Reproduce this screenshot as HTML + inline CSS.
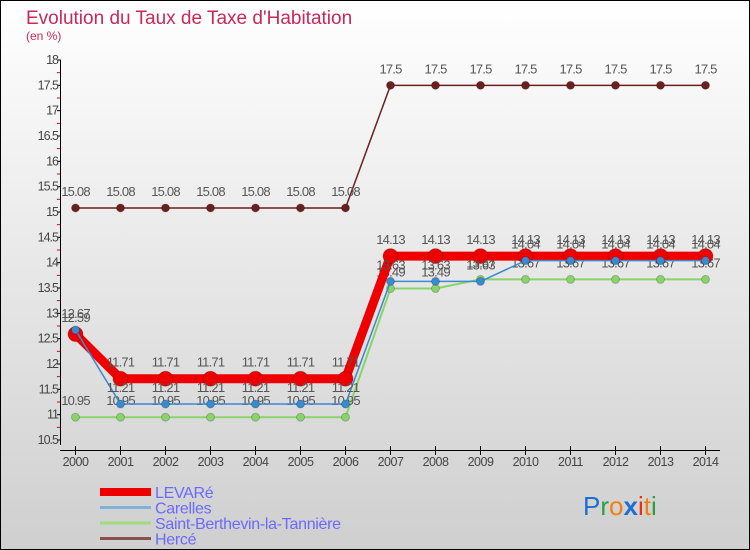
<!DOCTYPE html>
<html><head><meta charset="utf-8"><style>
body{margin:0;padding:0}
#wrap{width:750px;height:550px;position:relative;overflow:hidden}
</style></head><body>
<div id="wrap">
<svg id="svg" width="750" height="550" xmlns="http://www.w3.org/2000/svg" font-family="'Liberation Sans', sans-serif">
<defs>
<linearGradient id="bg" x1="0" y1="0" x2="0" y2="1"><stop offset="0" stop-color="#ffffff"/><stop offset="1" stop-color="#cfcfcf"/></linearGradient>
</defs>
<rect x="0.5" y="0.5" width="749" height="549" fill="url(#bg)" stroke="#000"/>
<text x="26" y="24" font-size="19" fill="#c8285a">Evolution du Taux de Taxe d'Habitation</text>
<text x="26" y="40" font-size="12" fill="#c8285a">(en %)</text>
<g id="axes"></g>
<g id="series"></g>
<g id="legend"></g>
<g font-size="26" font-family="'Liberation Sans', sans-serif">
<text x="583" y="515"><tspan fill="#1a6fd0">P</tspan><tspan fill="#2aa040">r</tspan><tspan fill="#f08010">o</tspan><tspan fill="#1a6fd0" font-weight="bold">x</tspan><tspan fill="#e83010">i</tspan><tspan fill="#f08010">t</tspan><tspan fill="#2aa040">i</tspan></text>
</g>
</svg>
</div>
<script>
const years=[2000,2001,2002,2003,2004,2005,2006,2007,2008,2009,2010,2011,2012,2013,2014];
const yTicks=[10.5,11,11.5,12,12.5,13,13.5,14,14.5,15,15.5,16,16.5,17,17.5,18];
const herce=[15.08,15.08,15.08,15.08,15.08,15.08,15.08,17.5,17.5,17.5,17.5,17.5,17.5,17.5,17.5];
const green=[10.95,10.95,10.95,10.95,10.95,10.95,10.95,13.49,13.49,13.67,13.67,13.67,13.67,13.67,13.67];
const carelles=[12.67,11.21,11.21,11.21,11.21,11.21,11.21,13.63,13.63,13.63,14.04,14.04,14.04,14.04,14.04];
const levare=[12.59,11.71,11.71,11.71,11.71,11.71,11.71,14.13,14.13,14.13,14.13,14.13,14.13,14.13,14.13];
const seriesNames=["LEVARé","Carelles","Saint-Berthevin-la-Tannière","Hercé"];

const NS="http://www.w3.org/2000/svg";
const X=i=>75.5+i*45;
const Y=v=>440-(v-10.5)/7.5*380;
function mk(tag,attrs,parent){const e=document.createElementNS(NS,tag);for(const k in attrs)e.setAttribute(k,attrs[k]);parent.appendChild(e);return e;}
const axes=document.getElementById('axes');
let e=mk('line',{x1:60.5,y1:60,x2:60.5,y2:445,stroke:'#000'},axes);


e=mk('line',{x1:60,y1:450.5,x2:720,y2:450.5,stroke:'#000'},axes);


yTicks.forEach((t,i)=>{
  const y=Y(t);
  mk('line',{x1:57,y1:y,x2:61,y2:y,stroke:'#000'},axes);
  if(i<yTicks.length-1) mk('line',{x1:57,y1:Y(t+0.25),x2:60,y2:Y(t+0.25),stroke:'#e00'},axes);
  const tx=mk('text',{x:58,y:y+4,'font-size':12.5,fill:'#444','text-anchor':'end','letter-spacing':'-1'},axes);
  tx.textContent=t;
  
  
});
years.forEach((yr,i)=>{
  const x=X(i);
  mk('line',{x1:x,y1:446,x2:x,y2:455,stroke:'#000'},axes);
  const tx=mk('text',{x:x,y:466,'font-size':12.5,fill:'#444','text-anchor':'middle','letter-spacing':'-0.5'},axes);
  tx.textContent=yr;
  
  
});
const sg=document.getElementById('series');
function draw(vals,color,w,r,name){
  const g=mk('g',{},sg);
  
  
  mk('polyline',{points:vals.map((v,i)=>X(i)+','+Y(v)).join(' '),fill:'none',stroke:color,'stroke-width':w,'stroke-linejoin':'round'},g);
  vals.forEach((v,i)=>{
    const c=mk('circle',{cx:X(i),cy:Y(v),r:r,fill:color,stroke:'rgba(0,0,0,0.2)'},g);
    
    
    const t=mk('text',{x:X(i),y:Y(v)-12,'font-size':13,fill:'#555','text-anchor':'middle','letter-spacing':'-0.8'},g);
    t.textContent=v;
  });
}
draw(herce,'#6b1f1f',1.5,4,'herce-series');
draw(green,'#88d46a',2,4,'saint-berthevin-series');
draw(levare,'#ee0000',9,7.5,'levare-series');
draw(carelles,'#3a8ad0',1.5,4,'carelles-series');
const lg=document.getElementById('legend');
const lcols=['#ee0000','#7fb2d8','#9edc80','#8a5050'];
const lw=[8,3,3,3];
seriesNames.forEach((n,i)=>{
  const y=492+i*15.5;
  const g=mk('g',{},lg);
  
  
  mk('line',{x1:100,y1:y,x2:151,y2:y,stroke:lcols[i],'stroke-width':lw[i]},g);
  const t=mk('text',{x:155,y:y+6,'font-size':16,fill:'#6a6aff','letter-spacing':'-0.3'},g);
  t.textContent=n;
});
</script>
</body></html>
